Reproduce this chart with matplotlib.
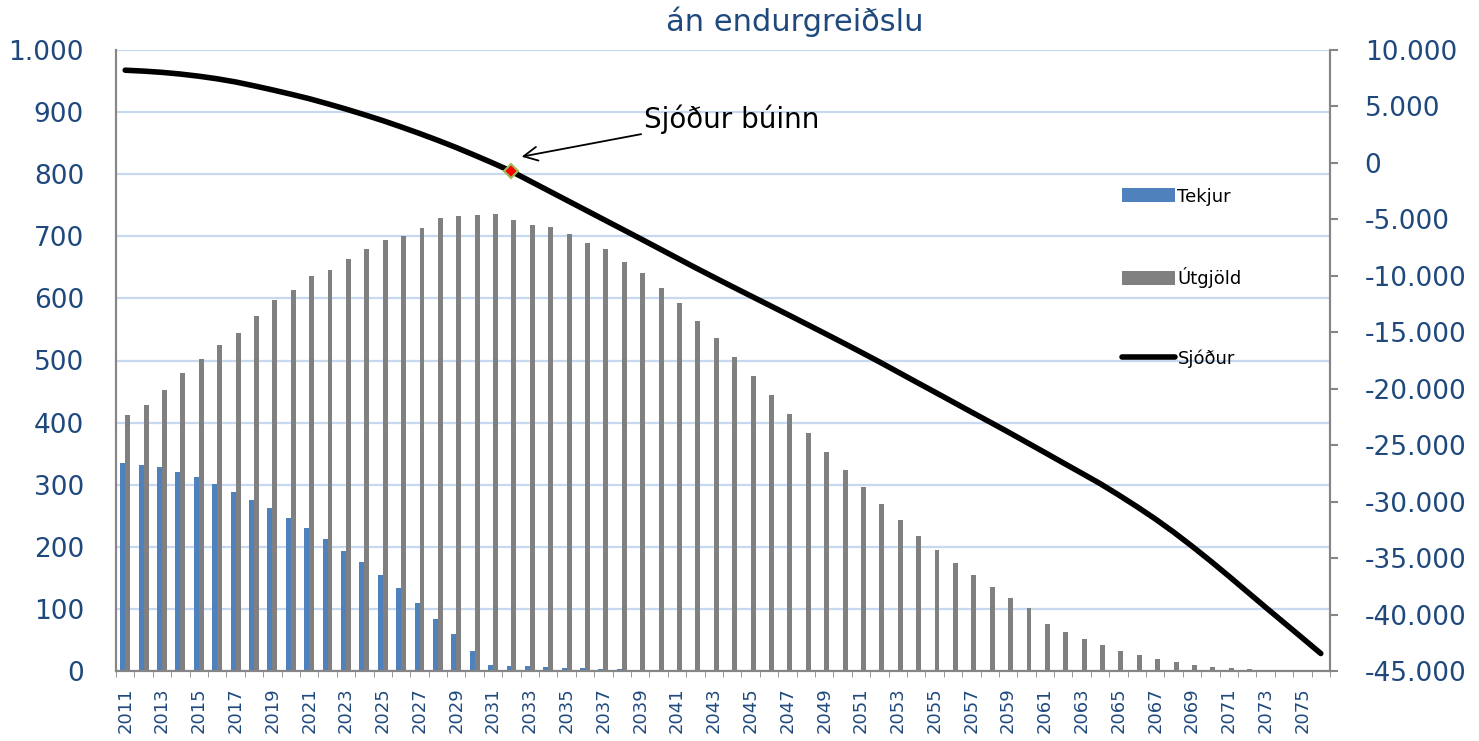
import matplotlib
matplotlib.use('Agg')
import matplotlib.pyplot as plt
from matplotlib.ticker import FuncFormatter, MultipleLocator
import numpy as np

years = np.arange(2011, 2077)

tekjur = [335, 332, 328, 320, 312, 301, 288, 275, 262, 247,
          231, 213, 194, 175, 155, 134, 110, 83, 59, 33,
          10, 8.5, 7.5, 6, 5, 5, 3, 2.5, 1, 0.5,
          0, 0, 0, 0, 0, 0, 0, 0, 0, 0,
          0, 0, 0, 0, 0, 0, 0, 0, 0, 0,
          0, 0, 0, 0, 0, 0, 0, 0, 0, 0,
          0, 0, 0, 0, 0, 0]

utgjold = [413, 429, 453, 480, 503, 525, 545, 571, 597, 613,
           636, 645, 663, 679, 694, 701, 714, 730, 732, 735,
           736, 726, 719, 715, 703, 689, 679, 658, 641, 616,
           592, 564, 536, 506, 475, 444, 414, 383, 353, 323,
           296, 269, 243, 218, 195, 174, 154, 135, 118, 102,
           75, 63, 51, 42, 33, 25, 19.5, 14, 9.5, 7,
           4.5, 3, 1.5, 1, 0.5, 0]

sjodur = [8210, 8130, 8020, 7870, 7680, 7450, 7170, 6830, 6470, 6090,
          5690, 5240, 4770, 4270, 3750, 3190, 2610, 2000, 1360, 680,
          -20, -750, -1600, -2450, -3300, -4150, -5000, -5850, -6700, -7560,
          -8420, -9280, -10120, -10950, -11770, -12590, -13410, -14240, -15070, -15910,
          -16760, -17620, -18510, -19400, -20280, -21170, -22060, -22940, -23830, -24740,
          -25650, -26570, -27480, -28400, -29400, -30440, -31530, -32700, -33950, -35250,
          -36600, -37980, -39360, -40720, -42080, -43450]

buinn_year = 2032

tick_color = '#1F497D'
grid_color = '#C6D9F1'
spine_color = '#868686'


def dot_thousands(v, pos):
    return '{:,.0f}'.format(v).replace(',', '.')


fig = plt.figure(figsize=(14.79, 7.41), dpi=100)
ax = fig.add_axes([116 / 1479, 1 - 671 / 741, (1330 - 116) / 1479, (671 - 50) / 741])
ax2 = ax.twinx()

x = np.arange(len(years))
w = 0.27
ax.bar(x - w / 2, tekjur, w, color='#4F81BD', label='Tekjur', zorder=2)
ax.bar(x + w / 2, utgjold, w, color='#808080', label='Útgjöld', zorder=2)

ax.set_xlim(-0.5, len(years) - 0.5)
ax.set_ylim(0, 1000)
ax.yaxis.set_major_locator(MultipleLocator(100))
ax.yaxis.set_major_formatter(FuncFormatter(dot_thousands))
ax.grid(axis='y', color=grid_color, lw=1.6, zorder=0)
ax.set_axisbelow(True)

ax.set_xticks(x[::2])
ax.set_xticklabels([str(y) for y in years[::2]], rotation=90)
ax.set_xticks(np.arange(-0.5, len(years), 1), minor=True)
ax.tick_params(axis='x', which='major', length=0, pad=12, labelsize=13, labelcolor=tick_color)
ax.tick_params(axis='x', which='minor', length=4, color=spine_color)
ax.tick_params(axis='y', length=0, pad=23, labelsize=19, labelcolor=tick_color)

for a in (ax, ax2):
    a.spines['top'].set_visible(False)
    for s in ['left', 'bottom', 'right']:
        a.spines[s].set_color(spine_color)
        a.spines[s].set_linewidth(1.5)

ax2.plot(x, sjodur, color='black', lw=4, solid_capstyle='round', label='Sjóður', zorder=3)
ax2.set_ylim(-45000, 10000)
ax2.yaxis.set_major_locator(MultipleLocator(5000))
ax2.yaxis.set_major_formatter(FuncFormatter(dot_thousands))
ax2.tick_params(axis='y', length=6, width=1.5, color=spine_color, pad=19,
                labelsize=19, labelcolor=tick_color)

bi = list(years).index(buinn_year)
ax2.plot([x[bi]], [sjodur[bi]], marker='D', ms=7, mfc='red', mec='#9BBB59', mew=1.5, zorder=4)
ax2.annotate('Sjóður búinn', xy=(x[bi] + 0.55, 550), xytext=(28.2, 3900),
             fontsize=20, va='center', ha='left',
             arrowprops=dict(arrowstyle='->', color='black', lw=1.3,
                             mutation_scale=25, relpos=(0, 0.0), shrinkA=0, shrinkB=0))

h1, l1 = ax.get_legend_handles_labels()
h2, l2 = ax2.get_legend_handles_labels()
leg = ax2.legend(h1 + h2, l1 + l2, loc='upper left', bbox_to_anchor=(0.823, 0.79),
                 frameon=False, fontsize=13, labelspacing=3.4, handlelength=2.9,
                 handleheight=0.8, handletextpad=0.15, borderaxespad=0)

fig.text(795 / 1479, 1 - 22 / 741, 'án endurgreiðslu', ha='center', va='center',
         fontsize=22, color=tick_color)

fig.savefig('out.png', dpi=100)
